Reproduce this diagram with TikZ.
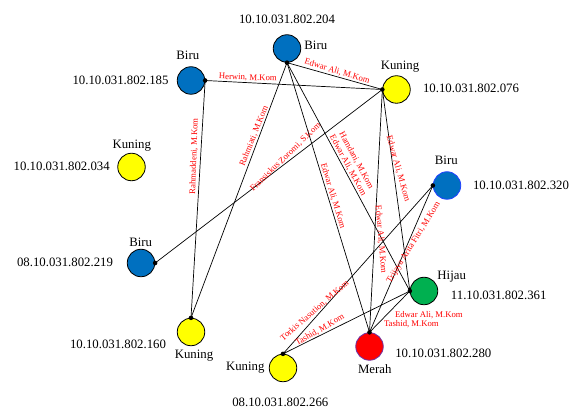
\documentclass[tikz,border=0pt]{standalone}
\usepackage{fontspec}
\setmainfont{Liberation Serif}
\definecolor{biru}{HTML}{0070C0}
\definecolor{kuning}{HTML}{FFFF00}
\definecolor{hijau}{HTML}{00B050}
\definecolor{merah}{HTML}{FF0000}
\definecolor{ungu}{HTML}{7030A0}
\definecolor{birutepi}{HTML}{2040FF}

\begin{document}
\begin{tikzpicture}[x=1pt,y=-1pt,
    host/.style={circle, draw=black, line width=0.8pt, minimum size=27.5pt, inner sep=0pt},
    iplabel/.style={font=\fontsize{12.8}{14}\selectfont, inner sep=0pt},
    warna/.style={font=\fontsize{12.8}{14}\selectfont, inner sep=0pt},
    dosen/.style={font=\fontsize{8.7}{9.6}\selectfont, text=red, inner sep=1pt},
    link/.style={line width=0.7pt}]
    \useasboundingbox (0,0) rectangle (576,411);
    % hosts
    \node[host, fill=biru] (n204) at (287,48.5) {};
    \node[host, fill=biru] (n185) at (191,80.5) {};
    \node[host, fill=kuning] (n076) at (396.5,89.5) {};
    \node[host, fill=kuning] (n034) at (131.5,167) {};
    \node[host, fill=biru] (n219) at (141,263) {};
    \node[host, fill=biru, draw=birutepi] (n320) at (447,185.5) {};
    \node[host, fill=hijau] (n361) at (424,291) {};
    \node[host, fill=kuning] (n160) at (191,332) {};
    \node[host, fill=merah, draw=ungu] (n280) at (369.5,346.5) {};
    \node[host, fill=kuning] (n266) at (283,368) {};
    % addresses and colour names
    \node[iplabel] (ip204) at (287,19) {10.10.031.802.204};
    \node[warna] (w204) at (315.8,45.8) {Biru};
    \node[iplabel] (ip185) at (120.5,80.7) {10.10.031.802.185};
    \node[warna] (w185) at (187.8,55.8) {Biru};
    \node[iplabel] (ip076) at (471,88.5) {10.10.031.802.076};
    \node[warna] (w076) at (400,67) {Kuning};
    \node[iplabel] (ip034) at (61.7,166.7) {10.10.031.802.034};
    \node[warna] (w034) at (131.8,145.3) {Kuning};
    \node[iplabel] (ip219) at (65,262.7) {08.10.031.802.219};
    \node[warna] (w219) at (140.7,242) {Biru};
    \node[iplabel] (ip320) at (521,185) {10.10.031.802.320};
    \node[warna] (w320) at (446.3,160.8) {Biru};
    \node[iplabel] (ip361) at (498.7,295.7) {11.10.031.802.361};
    \node[warna] (w361) at (451.7,277) {Hijau};
    \node[iplabel] (ip160) at (118,344) {10.10.031.802.160};
    \node[warna] (w160) at (194,356) {Kuning};
    \node[iplabel] (ip280) at (443.3,353) {10.10.031.802.280};
    \node[warna] (w280) at (374.7,369.2) {Merah};
    \node[iplabel] (ip266) at (280.3,402.8) {08.10.031.802.266};
    \node[warna] (w266) at (245.3,367.8) {Kuning};
    % links with supervisors
    \draw[link] (n185.east) -- node[dosen, pos=.24, rotate=-2, anchor=south] {Herwin, M.Kom} (n076.west);
    \draw[link] (n204.south) -- node[dosen, pos=.51, rotate=-17, anchor=south] {Edwar Ali, M.Kom} (n076.west);
    \draw[link] (n185.east) -- node[dosen, pos=.32, rotate=88, anchor=south, inner ysep=2.5pt] {Rahmaddeni, M.Kom} (n160.north);
    \draw[link] (n204.south) -- node[dosen, pos=.295, rotate=68, anchor=south] {Rahmiati, M.Kom} (n160.north);
    \draw[link] (n219.east) -- node[dosen, pos=.59, rotate=44, anchor=south] {Fransiskus Zoromi, S.Kom} (n076.west);
    \draw[link] (n204.south) -- node[dosen, pos=.5, rotate=-73, anchor=south] {Edwar Ali, M.Kom} (n280.north);
    \draw[link] (n204.south) -- node[dosen, pos=.46, rotate=-61.5, anchor=south, align=center] {Hamdani, M.Kom\\Edwar Ali, M.Kom} (n361.west);
    \draw[link] (n076.west) -- node[dosen, pos=.62, rotate=-85, anchor=south, inner ysep=2.5pt] {Edwar Ali, M.Kom} (n280.north);
    \draw[link] (n076.west) -- node[dosen, pos=.40, rotate=-74, anchor=south] {Edwar Ali, M.Kom} (n361.west);
    \draw[link] (n280.north) -- node[dosen, pos=.63, rotate=58, anchor=north] {Trijaya Arita Fitri, M.Kom} (n320.west);
    \draw[link] (n266.north) -- node[dosen, pos=.234, rotate=41, anchor=south] {Torkis Nasution, M.Kom} (n320.west);
    \draw[link] (n266.north) -- node[dosen, pos=.31, rotate=30, anchor=south] {Tashid, M.Kom} (n361.west);
    \draw[link] (n280.north) -- node[dosen, pos=.5, anchor=west, xshift=4pt, yshift=-3.5pt] {Edwar Ali, M.Kom}
        node[dosen, pos=.5, anchor=west, xshift=-7pt, yshift=-12.2pt] {Tashid, M.Kom} (n361.west);
    % joints
    \foreach \p in {n185.east, n204.south, n076.west, n219.east, n160.north, n320.west, n361.west, n280.north, n266.north}
        \fill (\p) circle (2.3pt);
\end{tikzpicture}
\end{document}
